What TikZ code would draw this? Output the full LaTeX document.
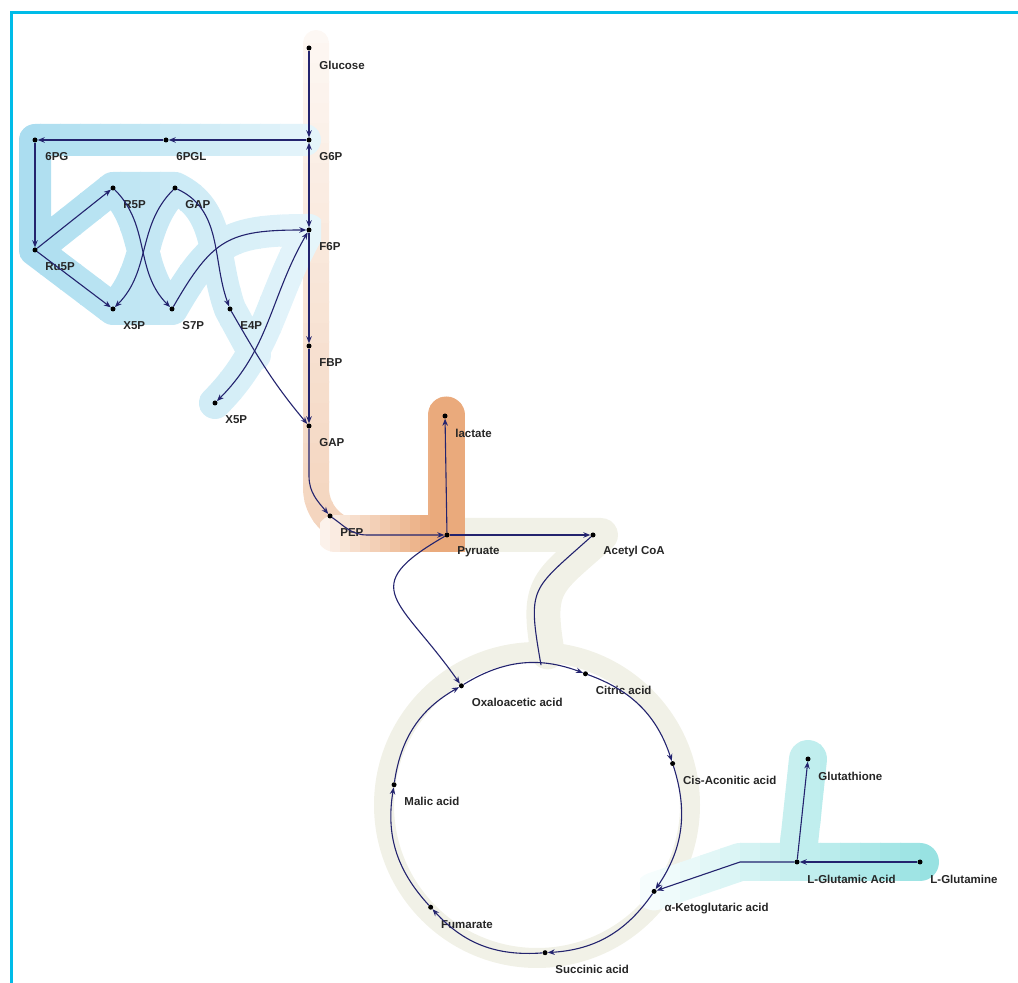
\documentclass[tikz,border=0pt]{standalone}
\usepackage{fontspec}
\setmainfont{Liberation Sans}
\usetikzlibrary{arrows.meta,backgrounds}
\definecolor{navy}{HTML}{23236E}
\definecolor{frame}{HTML}{00BCE8}
\definecolor{ppp}{HTML}{A3DAEE}
\definecolor{glyc}{HTML}{F3D2BA}
\definecolor{lact}{HTML}{EAAA7C}
\definecolor{tcab}{HTML}{F1F1E7}
\definecolor{glnb}{HTML}{8FE0E0}

% band outlines (drawn strip by strip for the colour ramps)
\def\pppband{(305,843) -- (pg.center) -- (ru5p.center) -- (x5pa.center) -- (s7p.center)
  (ru5p.center) -- (r5p.center) -- (gapa.center)
  (r5p.center) to[out=-45,in=135] (s7p.center)
  (gapa.center) to[out=225,in=45] (x5pa.center)
  (gapa.center) to[out=-25,in=110] (e4p.center) -- (255,628)
  (s7p.center) to[out=60,in=180,looseness=1.3] (f6p.center)
  (f6p.center) to[out=240,in=45] (x5pb.center)}
\def\glycband{[rounded corners=45] (316,940) -- (316,450) -- (445,450)}
\def\lactband{(446,568) -- (446,449) -- (335,449)}
\def\glnband{(akg.center) -- (740,121) -- (gln.center) (glu.center) -- (gsh.center)}

\begin{document}
\begin{tikzpicture}[x=1pt,y=1pt,>={Stealth[length=7pt,width=5.5pt]},
   met/.style={circle,fill=black,inner sep=0pt,minimum size=5pt},
   lab/.style={font=\fontsize{11.5}{13}\selectfont\bfseries,text=black!85,inner sep=0pt,xshift=7.5pt,yshift=-17pt},
   fl/.style={->,draw=navy,line width=1.1pt},
   ln/.style={draw=navy,line width=1.1pt},
   band/.style={line width=#1,line cap=round,line join=round}]
  \useasboundingbox (0,0) rectangle (1018,983);
  \draw[frame,line width=3pt] (11,0) -- (11,970) -- (1018,970);

  % glycolysis
  \node[met,label={[lab]0:Glucose}] (glc) at (309,935) {};
  \node[met,label={[lab]0:G6P}] (g6p) at (309,843) {};
  \node[met,label={[lab]0:F6P}] (f6p) at (309,753) {};
  \node[met,label={[lab]0:FBP}] (fbp) at (309,637) {};
  \node[met,label={[lab]0:GAP}] (gap) at (309,557) {};
  \node[met,label={[lab]0:PEP}] (pep) at (330,467) {};
  \node[met,label={[lab]0:Pyruate}] (pyr) at (447,448) {};
  \node[met,label={[lab]0:lactate}] (lac) at (445,567) {};
  \node[met,label={[lab]0:Acetyl CoA}] (aca) at (593,448) {};

  % pentose phosphate
  \node[met,label={[lab]0:6PGL}] (pgl) at (166,843) {};
  \node[met,label={[lab]0:6PG}] (pg) at (35,843) {};
  \node[met,label={[lab]0:Ru5P}] (ru5p) at (35,733) {};
  \node[met,label={[lab]0:R5P}] (r5p) at (113,795) {};
  \node[met,label={[lab]0:GAP}] (gapa) at (175,795) {};
  \node[met,label={[lab]0:X5P}] (x5pa) at (113,674) {};
  \node[met,label={[lab]0:S7P}] (s7p) at (172,674) {};
  \node[met,label={[lab]0:E4P}] (e4p) at (230,674) {};
  \node[met,label={[lab]0:X5P}] (x5pb) at (215,580) {};

  % TCA cycle
  \coordinate (tca) at (536,174);
  \coordinate (ringc) at (537,178);
  \node[met,label={[lab]0:Oxaloacetic acid}] (oxa) at ([shift={(121.2:144)}]tca) {};
  \node[met,label={[lab]0:Citric acid}] (cit) at ([shift={(69.9:144)}]tca) {};
  \node[met,label={[lab]0:Cis-Aconitic acid}] (cis) at ([shift={(18.4:144)}]tca) {};
  \node[met,label={[lab]0:α-Ketoglutaric acid}] (akg) at ([shift={(-34.9:144)}]tca) {};
  \node[met,label={[lab]0:Succinic acid}] (suc) at ([shift={(-86.4:144)}]tca) {};
  \node[met,label={[lab]0:Fumarate}] (fum) at ([shift={(-137:144)}]tca) {};
  \node[met,label={[lab]0:Malic acid}] (mal) at ([shift={(170.3:144)}]tca) {};
  \coordinate (cjoin) at ([shift={(88:144)}]tca);

  % glutamine
  \node[met,label={[lab]0:Glutathione}] (gsh) at (808,224) {};
  \node[met,label={[lab]0:L-Glutamic Acid}] (glu) at (797,121) {};
  \node[met,label={[lab]0:L-Glutamine}] (gln) at (920,121) {};

  \begin{scope}[on background layer]
    \draw[band=20,draw=tcab] (ringc) circle[radius=153];
    \draw[band=34,draw=tcab] (pyr.center) -- ([xshift=8pt]aca.center) to[out=222,in=100,looseness=1.4] ([shift={(86:153)}]ringc);
    \foreach \i in {0,...,27}{
      \pgfmathtruncatemacro\p{100-3.2*\i}
      \begin{scope}
        \clip (250,420+20*\i) rectangle (470,441+20*\i);
        \draw[band=26,draw=glyc!\p!white] \glycband;
      \end{scope}}
    \foreach \i in {0,...,14}{
      \pgfmathtruncatemacro\p{min(100,15+8*\i)}
      \begin{scope}
        \clip (320+10*\i,400) rectangle (331+10*\i,600);
        \draw[band=37,draw=lact!\p!white,line join=miter] \lactband;
      \end{scope}}
    \foreach \i in {0,...,16}{
      \pgfmathtruncatemacro\p{max(18,100-4.5*\i)}
      \begin{scope}
        \clip (20*\i-20,500) rectangle (20*\i+1,900);
        \draw[band=32,draw=ppp!\p!white] \pppband;
      \end{scope}}
    \foreach \i in {0,...,16}{
      \pgfmathtruncatemacro\p{min(100,8+6*\i)}
      \begin{scope}
        \clip (640+20*\i,60) rectangle (661+20*\i,260);
        \draw[band=38,draw=glnb!\p!white] \glnband;
      \end{scope}}
  \end{scope}

  \draw[fl] (glc) -- (g6p);
  \draw[fl,<->] (g6p) -- (f6p);
  \draw[fl] (f6p) -- (fbp);
  \draw[fl] (fbp) -- (gap);
  \draw[fl] (gap) -- ([yshift=-50pt]gap.center) to[out=-90,in=130] (pep);
  \draw[fl] (pep) to[out=-35,in=180] ([xshift=-80pt]pyr.center) -- (pyr);
  \draw[fl] (pyr) -- (lac);
  \draw[fl] (pyr) -- (aca);
  \draw[fl] (pyr) to[out=210,in=125,looseness=1.8] (oxa);
  \draw[ln] (aca) to[out=222,in=100,looseness=1.5] (cjoin);

  \draw[fl] (g6p) -- (pgl);
  \draw[fl] (pgl) -- (pg);
  \draw[fl] (pg) -- (ru5p);
  \draw[fl] (ru5p) -- (r5p);
  \draw[fl] (ru5p) -- (x5pa);
  \draw[fl] (r5p) to[out=-45,in=135] (s7p);
  \draw[fl] (gapa) to[out=225,in=45] (x5pa);
  \draw[fl] (gapa) to[out=-25,in=110] (e4p);
  \draw[fl] (s7p) to[out=60,in=180,looseness=1.3] (f6p);
  \draw[fl,<->] (f6p) to[out=240,in=45] (x5pb);
  \draw[fl] (e4p) to[out=-60,in=130] (gap);

  \draw[fl] (oxa) to[bend left=26] (cit);
  \draw[fl] (cit) to[bend left=26] (cis);
  \draw[fl] (cis) to[bend left=26] (akg);
  \draw[fl] (akg) to[bend left=26] (suc);
  \draw[fl] (suc) to[bend left=26] (fum);
  \draw[fl] (fum) to[bend left=26] (mal);
  \draw[fl] (mal) to[bend left=26] (oxa);

  \draw[fl] (gln) -- (glu);
  \draw[fl] (glu) -- (gsh);
  \draw[fl] (glu) -- (740,121) -- (akg);
\end{tikzpicture}
\end{document}
